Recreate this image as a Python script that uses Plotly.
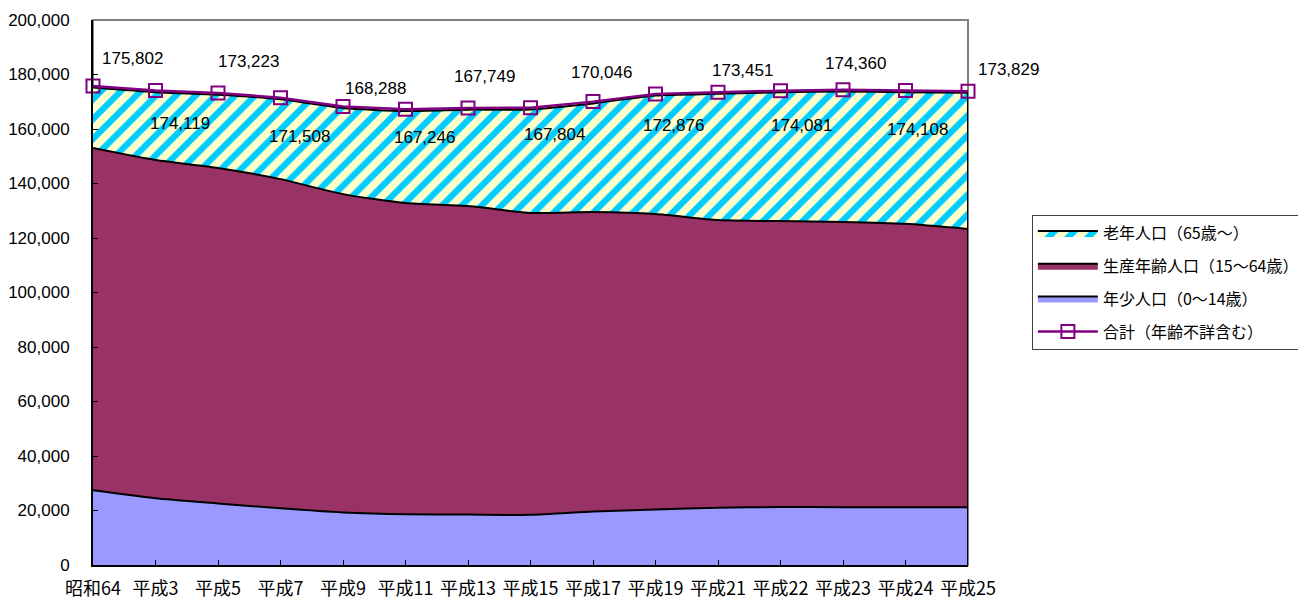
import plotly.graph_objects as go

# 年次
categories = ["昭和64", "平成3", "平成5", "平成7", "平成9", "平成11", "平成13", "平成15",
              "平成17", "平成19", "平成21", "平成22", "平成23", "平成24", "平成25"]

# 年少人口(0～14歳)
young = [27400, 24500, 22600, 20800, 19300, 18600, 18500, 18400,
         19600, 20400, 21000, 21300, 21200, 21200, 21200]
# 生産年齢人口(15～64歳)
working = [125600, 124100, 123100, 120800, 116800, 114200, 113200, 110800,
           109900, 108400, 105600, 104900, 104700, 104000, 102100]
# 老年人口(65歳～)
elderly = [22200, 24900, 26900, 29300, 31600, 33800, 35400, 38000,
           39900, 43500, 46300, 47300, 47900, 48300, 50000]
# 合計(年齢不詳含む)
total = [175802, 174119, 173223, 171508, 168288, 167246, 167749, 167804,
         170046, 172876, 173451, 174081, 174360, 174108, 173829]

y_ticks = [0, 20000, 40000, 60000, 80000, 100000, 120000, 140000, 160000, 180000, 200000]

# label offsets (px) for the total labels
label_dx = [39, 24, 30, 19, 32, 19, 16, 24, 8, 18, 24, 21, 12, 12, 40]
label_dy = [27, -33, 31, -39, 18, -28, 31, -27, 29, -32, 22, -35, 26, -39, 22]

x = list(range(len(categories)))
jp_font = "Noto Sans CJK JP"
num_font = "Liberation Sans"

fig = go.Figure()

fig.add_trace(go.Scatter(
    x=x, y=young, name="年少人口（0～14歳）", stackgroup="pop",
    mode="lines", line=dict(color="black", width=2, shape="spline", smoothing=0.6),
    fillcolor="#9999FF", legendrank=3, legendgroup="c",
))
fig.add_trace(go.Scatter(
    x=x, y=working, name="生産年齢人口（15～64歳）", stackgroup="pop",
    mode="lines", line=dict(color="black", width=2, shape="spline", smoothing=0.6),
    fillcolor="#993366", legendrank=2, legendgroup="b",
))
fig.add_trace(go.Scatter(
    x=x, y=elderly, name="老年人口（65歳～）", stackgroup="pop",
    mode="lines", line=dict(color="black", width=2, shape="spline", smoothing=0.6),
    fillcolor="#FFFFCC",
    fillpattern=dict(shape="/", bgcolor="#FFFFCC", fgcolor="#00CCFF", fgopacity=1,
                     fillmode="replace", size=14, solidity=0.45),
    legendrank=1, legendgroup="a",
))

# right edge of the stacked area
stack_top = young[-1] + working[-1] + elderly[-1]
fig.add_trace(go.Scatter(
    x=[x[-1], x[-1]], y=[0, stack_top], mode="lines",
    line=dict(color="black", width=2), showlegend=False, hoverinfo="skip",
))

fig.add_trace(go.Scatter(
    x=x, y=total, name="合計（年齢不詳含む）", mode="lines+markers",
    line=dict(color="#800080", width=2.5),
    marker=dict(symbol="square-open", size=13, color="#800080", line=dict(width=2)),
    legendrank=4, legendgroup="d", cliponaxis=False,
))

for i, v in enumerate(total):
    fig.add_annotation(
        x=x[i], y=v, text=f"{v:,}", showarrow=False,
        xshift=label_dx[i], yshift=label_dy[i],
        font=dict(family=num_font, size=17, color="black"),
    )

# plot frame
fig.add_shape(type="rect", xref="paper", yref="paper", x0=0, y0=0, x1=1, y1=1,
              line=dict(color="#808080", width=2), layer="below")

fig.update_xaxes(
    range=[0, len(categories) - 1], tickvals=x, ticktext=categories,
    showgrid=False, zeroline=False, showline=True, linecolor="black", linewidth=2,
    ticks="inside", ticklen=5, tickcolor="black", tickwidth=1, ticklabelstandoff=6,
    tickfont=dict(family=jp_font, size=18, color="black"),
)
fig.update_yaxes(
    range=[0, 200000], tickvals=y_ticks, tickformat=",",
    showgrid=False, zeroline=False, showline=True, linecolor="black", linewidth=2,
    ticks="inside", ticklen=5, tickcolor="black", tickwidth=1, ticklabelstandoff=18,
    tickfont=dict(family=num_font, size=17, color="black"),
)

# page body has an 8px margin, so the figure is drawn 8px smaller
fig.update_layout(
    width=1298, height=591,
    margin=dict(l=85, r=338, t=12, b=34, autoexpand=False),
    plot_bgcolor="white", paper_bgcolor="white",
    showlegend=True,
    legend=dict(
        x=1.073, y=0.642, xanchor="left", yanchor="top",
        bordercolor="#404040", borderwidth=1, bgcolor="white",
        font=dict(family=jp_font, size=16, color="black"),
        traceorder="grouped", tracegroupgap=9, itemwidth=60,
    ),
    hovermode=False,
)

fig.write_html("out.html")
